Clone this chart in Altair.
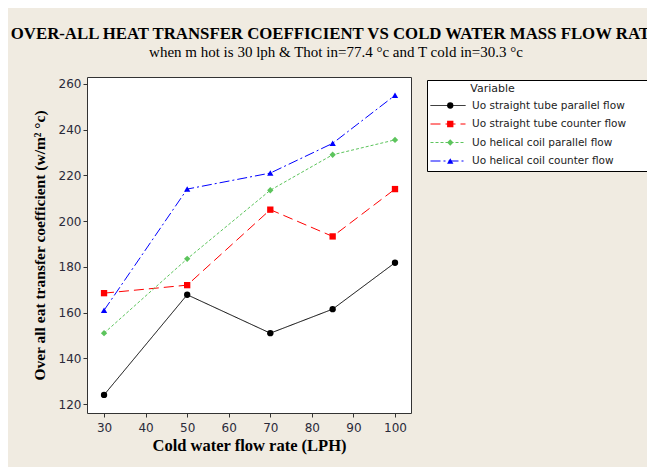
import altair as alt
import pandas as pd

flow = [30, 50, 70, 85, 100]
straight_parallel = [124, 167.8, 151, 161.5, 181.8]
straight_counter = [168.5, 172, 205, 193.3, 214]
helical_parallel = [151, 183.5, 213.5, 229, 235.5]
helical_counter = [161, 214, 221, 234, 255]

series_names = [
    "Uo straight tube parallel flow",
    "Uo straight tube counter flow",
    "Uo helical coil parallel flow",
    "Uo helical coil counter flow",
]
series_values = [straight_parallel, straight_counter, helical_parallel, helical_counter]
colors = ["#000000", "#ff0000", "#5cc45c", "#0000ff"]
dashes = [[1, 0], [10, 5], [3, 2], [10, 3, 2, 3]]
shapes = ["circle", "square", "diamond", "triangle-up"]

# marker keys (same names, used for a separate marker-only legend overlay)
marker_names = [n + " " for n in series_names]

rows = []
for name, mname, vals in zip(series_names, marker_names, series_values):
    for f, v in zip(flow, vals):
        rows.append({"flow": f, "value": v, "Variable": name, "Series": mname})
df = pd.DataFrame(rows)

x = alt.X("flow:Q", scale=alt.Scale(domain=[25.9, 103.85], nice=False, zero=False),
          axis=alt.Axis(values=[30, 40, 50, 60, 70, 80, 90, 100], title="Cold water flow rate (LPH)"))
y = alt.Y("value:Q", scale=alt.Scale(domain=[116.1, 263], nice=False, zero=False),
          axis=alt.Axis(values=[120, 140, 160, 180, 200, 220, 240, 260],
                        title="Over all eat transfer coefficient (w/m² °c)"))

BLANK = "\u2800"
LX, LY = 340, 3
common = dict(orient="none", legendY=LY, clipHeight=13, rowPadding=5.5, padding=3,
              titleFont="DejaVu Sans", titleFontSize=11, titleFontWeight="normal",
              labelFont="DejaVu Sans", labelFontSize=10.5, labelLimit=300,
              labelExpr="datum.label + '" + BLANK * 3 + "'", labelOffset=6)

legend_lines = alt.Legend(title=BLANK * 5 + "Variable", legendX=LX, symbolType="stroke",
                          symbolSize=1225, symbolStrokeWidth=1, fillColor="white",
                          strokeColor="#000000", titleColor="#222222", labelColor="#222222",
                          **common)
legend_points = alt.Legend(title="Markers", legendX=LX + 15, symbolSize=40,
                           fillColor="transparent", strokeColor="transparent",
                           titleColor="transparent", labelColor="transparent", zindex=2,
                           **common)

lines = alt.Chart(df).mark_line(strokeWidth=1).encode(
    x=x, y=y,
    color=alt.Color("Variable:N", scale=alt.Scale(domain=series_names, range=colors),
                    legend=legend_lines, sort=series_names),
    strokeDash=alt.StrokeDash("Variable:N", scale=alt.Scale(domain=series_names, range=dashes),
                              legend=legend_lines, sort=series_names),
)
points = alt.Chart(df).mark_point(filled=True, size=40, opacity=1).encode(
    x=x, y=y,
    color=alt.Color("Series:N", scale=alt.Scale(domain=marker_names, range=colors),
                    legend=legend_points, sort=marker_names),
    shape=alt.Shape("Series:N", scale=alt.Scale(domain=marker_names, range=shapes),
                    legend=legend_points, sort=marker_names),
)

chart = alt.layer(lines, points).resolve_scale(
    color="independent", shape="independent", strokeDash="independent"
).properties(
    width=324, height=336,
    autosize=alt.AutoSizeParams(type="none"),
    padding={"left": 79, "top": 69, "right": 236, "bottom": 54},
    background="#f0ebe1",
    title=alt.Title(
        "OVER-ALL HEAT TRANSFER COEFFICIENT VS COLD WATER MASS FLOW RATE",
        subtitle="when m hot is 30 lph & Thot in=77.4 °c and T cold in=30.3 °c",
        anchor="middle", dx=87, offset=17,
        font="Liberation Serif", fontSize=16.8, fontWeight="bold", color="#000000",
        subtitleFont="Liberation Serif", subtitleFontSize=15, subtitleColor="#000000",
        subtitlePadding=2,
    ),
).configure_view(
    fill="white", stroke="#333333", strokeWidth=1
).configure_axis(
    grid=False, domain=False, tickColor="#333333", tickSize=4,
    labelFont="DejaVu Sans", labelFontSize=12, labelColor="#2a2a3a", labelPadding=2,
    titleFont="Liberation Serif", titleFontWeight="bold", titleColor="#000000",
).configure_axisY(
    titlePadding=11, titleFontSize=15.5,
).configure_axisX(
    titlePadding=4, titleFontSize=16.5, labelPadding=5,
)

chart.save("out.html", embed_options={"renderer": "svg", "actions": False})
